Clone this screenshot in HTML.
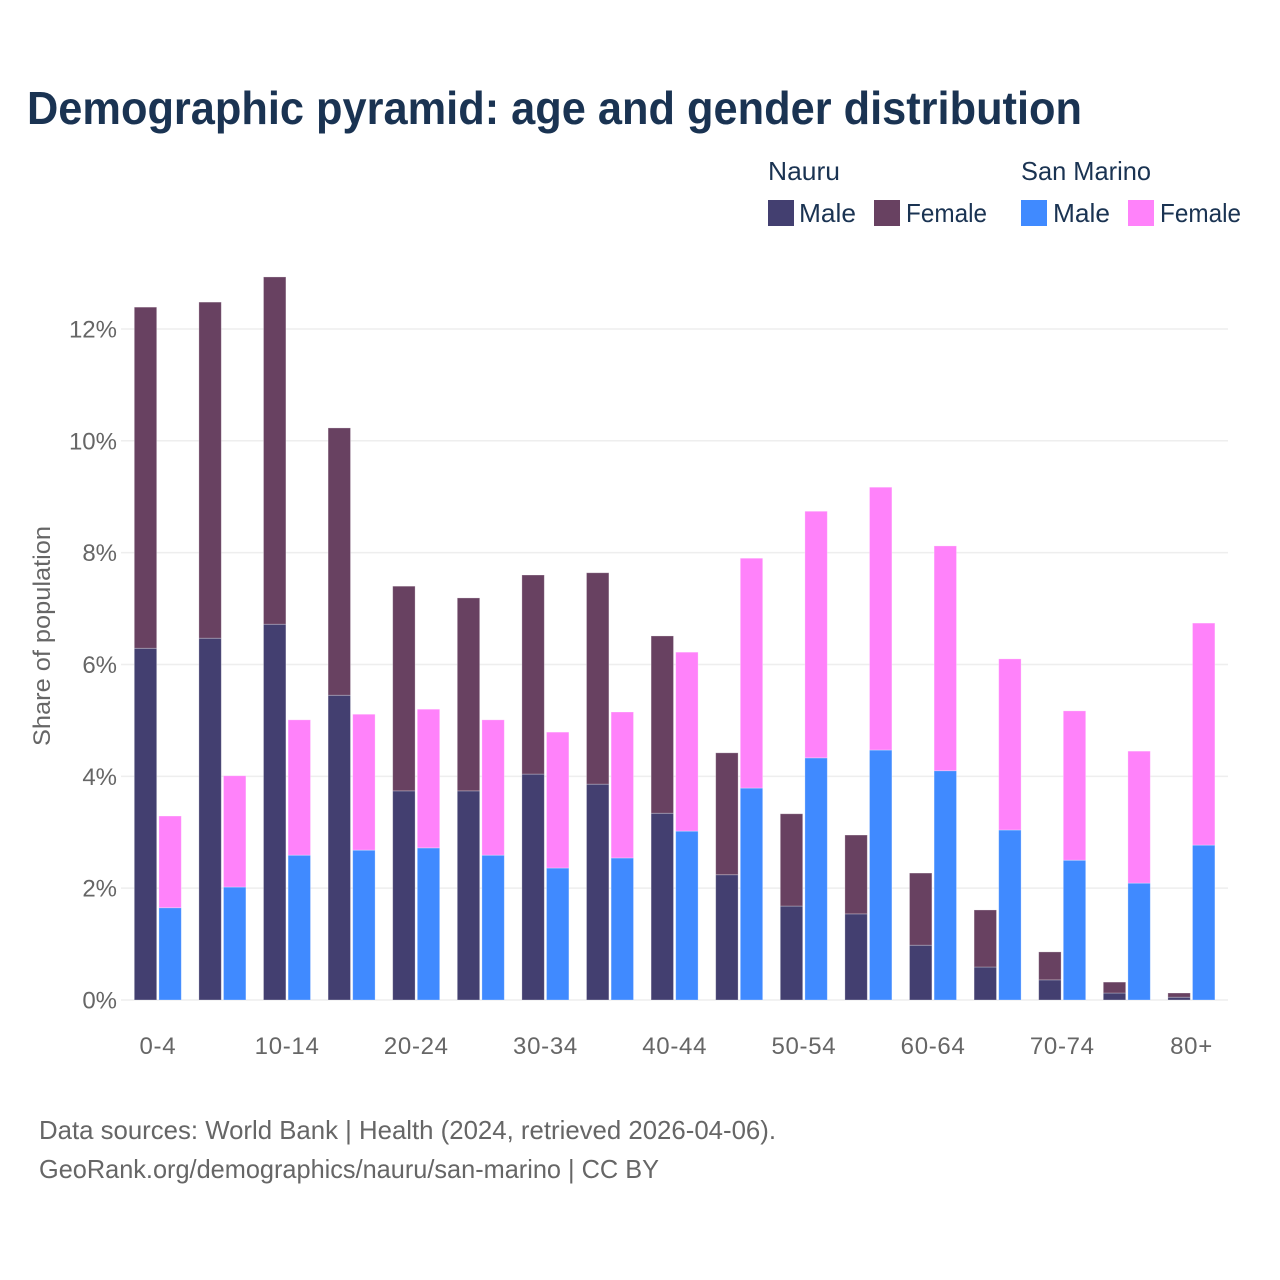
<!DOCTYPE html>
<html lang="en">
<head>
<meta charset="utf-8">
<title>Demographic pyramid: age and gender distribution</title>
<style>
html,body{margin:0;padding:0;background:#fff;width:1280px;height:1280px;overflow:hidden}
svg{display:block;font-family:"Liberation Sans",sans-serif}
</style>
</head>
<body>
<svg id="chart" xmlns="http://www.w3.org/2000/svg" width="1280" height="1280" viewBox="0 0 1280 1280">
  <text x="27" y="124" font-size="46" font-weight="700" fill="#1a3352" textLength="1055" lengthAdjust="spacingAndGlyphs">Demographic pyramid: age and gender distribution</text>
  <g font-size="26" fill="#1a3352">
    <text x="768" y="180" textLength="72" lengthAdjust="spacingAndGlyphs">Nauru</text>
    <text x="1021" y="180" textLength="130" lengthAdjust="spacingAndGlyphs">San Marino</text>
    <rect x="768" y="200" width="26" height="26" fill="#433f70"/>
    <text x="799" y="222" textLength="57" lengthAdjust="spacingAndGlyphs">Male</text>
    <rect x="874" y="200" width="26" height="26" fill="#684161"/>
    <text x="906" y="222" textLength="81" lengthAdjust="spacingAndGlyphs">Female</text>
    <rect x="1021" y="200" width="26" height="26" fill="#408aff"/>
    <text x="1053" y="222" textLength="57" lengthAdjust="spacingAndGlyphs">Male</text>
    <rect x="1128" y="200" width="26" height="26" fill="#ff82fa"/>
    <text x="1160" y="222" textLength="81" lengthAdjust="spacingAndGlyphs">Female</text>
  </g>
  <g id="grid"></g>
  <g id="bars"></g>
  <g id="yticks" font-size="24" fill="#666666" text-anchor="end"></g>
  <g id="xticks" font-size="24" fill="#666666" text-anchor="middle" letter-spacing="0.7"></g>
  <text transform="translate(50,746) rotate(-90)" font-size="24" fill="#666666" textLength="220" lengthAdjust="spacingAndGlyphs">Share of population</text>
  <text x="39" y="1139" font-size="26" fill="#666666" textLength="737" lengthAdjust="spacingAndGlyphs">Data sources: World Bank | Health (2024, retrieved 2026-04-06).</text>
  <text x="39" y="1178" font-size="26" fill="#666666" textLength="620" lengthAdjust="spacingAndGlyphs">GeoRank.org/demographics/nauru/san-marino | CC BY</text>
</svg>
<script>
const categories = ["0-4","5-9","10-14","15-19","20-24","25-29","30-34","35-39","40-44","45-49","50-54","55-59","60-64","65-69","70-74","75-79","80+"];
const nauruMale = [6.29,6.47,6.72,5.45,3.74,3.74,4.04,3.86,3.34,2.24,1.68,1.54,0.98,0.59,0.36,0.125,0.05];
const nauruFemale = [6.10,6.01,6.21,4.78,3.66,3.45,3.56,3.78,3.17,2.18,1.65,1.41,1.29,1.02,0.50,0.195,0.075];
const sanMarinoMale = [1.65,2.02,2.59,2.68,2.72,2.59,2.36,2.54,3.02,3.79,4.33,4.47,4.10,3.04,2.50,2.09,2.77];
const sanMarinoFemale = [1.64,1.99,2.42,2.43,2.48,2.42,2.43,2.61,3.20,4.11,4.41,4.70,4.02,3.06,2.67,2.36,3.97];
const yTicks = [0,2,4,6,8,10,12];

const NS = "http://www.w3.org/2000/svg";
const plotLeft = 121, plotRight = 1228;
const y0 = 1000, pxPerUnit = 55.92;
const step = 64.6, firstCenter = 157.9;
const barWidth = 22.4;
function yScale(v){ return y0 - v * pxPerUnit; }
function xCenter(i){ return firstCenter + step * i; }
function makeEl(tag, attrs){
  const el = document.createElementNS(NS, tag);
  for (const k in attrs) el.setAttribute(k, attrs[k]);
  return el;
}
const gridG = document.getElementById("grid");
const barsG = document.getElementById("bars");
const yG = document.getElementById("yticks");
const xG = document.getElementById("xticks");

yTicks.forEach(function(t){
  const line = makeEl("line", {x1: plotLeft, x2: plotRight, y1: yScale(t), y2: yScale(t), stroke: "#eeeeee", "stroke-width": 1.5});
  
  
  gridG.appendChild(line);
  const label = makeEl("text", {x: 117, y: yScale(t) + 8.5});
  label.textContent = t + "%";
  
  
  yG.appendChild(label);
});

function drawBar(x, base, value, fill){
  const top = yScale(base + value);
  const bottom = yScale(base);
  const r = makeEl("rect", {x: x, y: top, width: barWidth, height: Math.max(bottom - top, 0), fill: fill, stroke: "#ffffff", "stroke-opacity": 0.35, "stroke-width": 0.8});
  
  
  barsG.appendChild(r);
}

categories.forEach(function(cat, i){
  const c = xCenter(i);
  const leftX = c - 23.6;
  const rightX = c + 1;
  drawBar(leftX, 0, nauruMale[i], "#433f70");
  drawBar(leftX, nauruMale[i], nauruFemale[i], "#684161");
  drawBar(rightX, 0, sanMarinoMale[i], "#408aff");
  drawBar(rightX, sanMarinoMale[i], sanMarinoFemale[i], "#ff82fa");
  if (i % 2 === 0) {
    const label = makeEl("text", {x: c, y: 1054});
    label.textContent = cat;
    
    
    xG.appendChild(label);
  }
});
</script>
</body>
</html>
